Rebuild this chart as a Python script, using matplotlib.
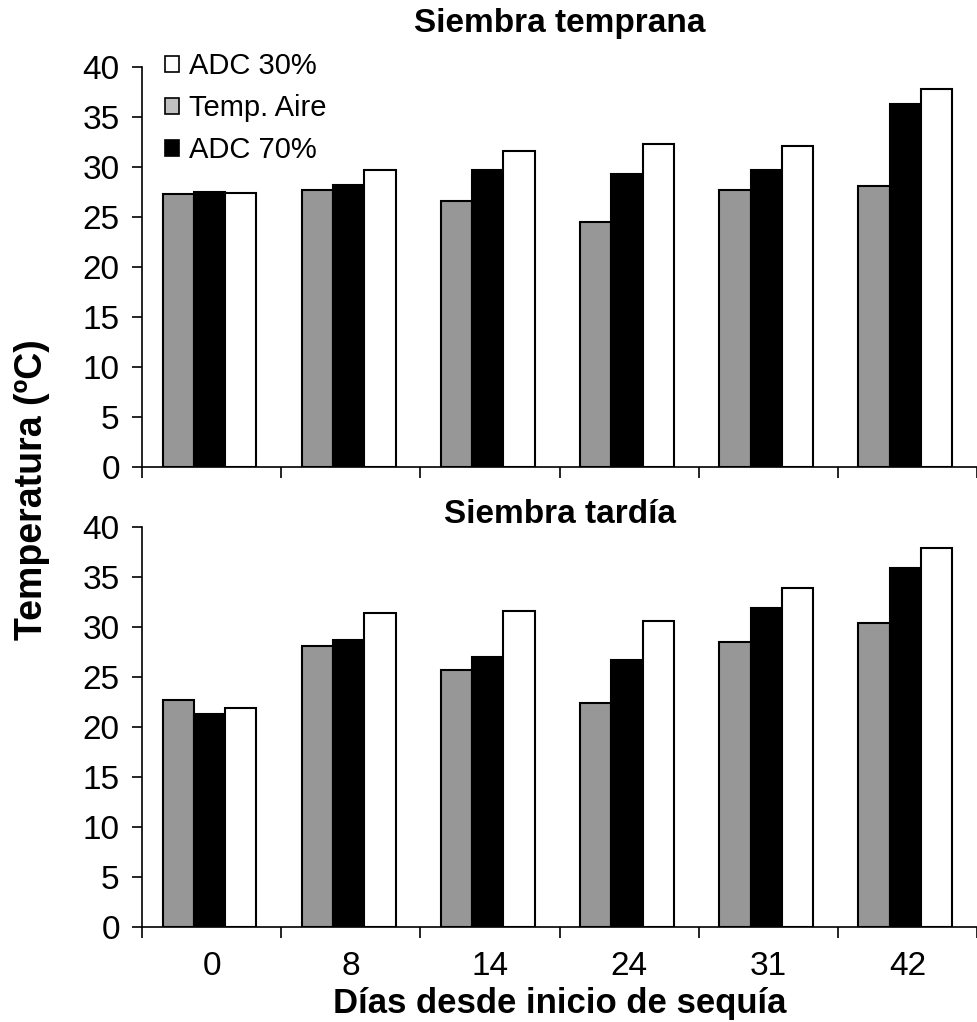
import matplotlib
matplotlib.use("Agg")
import matplotlib.pyplot as plt
from matplotlib.patches import Patch
import numpy as np

plt.rcParams['font.family'] = ['Liberation Sans', 'DejaVu Sans']

dias = ['0', '8', '14', '24', '31', '42']

# siembra temprana
temp_aire_1 = [27.3, 27.7, 26.6, 24.5, 27.7, 28.1]
adc70_1 = [27.5, 28.2, 29.7, 29.3, 29.7, 36.3]
adc30_1 = [27.4, 29.7, 31.6, 32.3, 32.1, 37.8]

# siembra tardia
temp_aire_2 = [22.7, 28.1, 25.7, 22.4, 28.5, 30.4]
adc70_2 = [21.3, 28.7, 27.0, 26.7, 31.9, 35.9]
adc30_2 = [21.9, 31.4, 31.6, 30.6, 33.9, 37.9]

gris = '#979797'
w = 0.225
x = np.arange(len(dias))

W, H = 977, 1022
fig = plt.figure(figsize=(W / 100, H / 100), dpi=100)
ax1 = fig.add_axes([142 / W, 1 - 467 / H, 1 - 142 / W, 400 / H])
ax2 = fig.add_axes([142 / W, 1 - 927 / H, 1 - 142 / W, 400 / H])


def panel(ax, aire, a70, a30, etiquetas):
    ax.bar(x - w - 0.015, aire, w, color=gris, edgecolor='black', linewidth=1.5)
    ax.bar(x - 0.015, a70, w, color='black', edgecolor='black', linewidth=1.5)
    ax.bar(x + w - 0.015, a30, w, color='white', edgecolor='black', linewidth=1.5)
    ax.set_xlim(-0.5, len(dias) - 0.5)
    ax.set_ylim(0, 40)
    ax.set_yticks(range(0, 41, 5))
    ax.spines['top'].set_visible(False)
    ax.spines['right'].set_visible(False)
    ax.spines['left'].set_linewidth(1.2)
    ax.spines['bottom'].set_linewidth(1.2)
    ax.set_xticks(np.arange(-0.5, len(dias), 1.0))
    ax.set_xticklabels([])
    ax.set_xticks(x, minor=True)
    ax.set_xticklabels(dias if etiquetas else [], minor=True)
    ax.tick_params(axis='x', which='major', direction='out', length=8, width=1.2)
    ax.tick_params(axis='x', which='minor', length=0, labelsize=24, pad=17)
    ax.tick_params(axis='y', direction='out', length=7, width=1.2, labelsize=24, pad=9)


panel(ax1, temp_aire_1, adc70_1, adc30_1, False)
panel(ax2, temp_aire_2, adc70_2, adc30_2, True)

fig.text(0.5727, 1 - 32 / H, 'Siembra temprana', ha='center', va='baseline',
         fontsize=24, fontweight='bold')
fig.text(0.5727, 1 - 523 / H, 'Siembra tardía', ha='center', va='baseline',
         fontsize=24, fontweight='bold')

handles = [Patch(facecolor='white', edgecolor='black', linewidth=1.2),
           Patch(facecolor='#c0c0c0', edgecolor='black', linewidth=1.2),
           Patch(facecolor='black', edgecolor='black', linewidth=1.2)]
ax1.legend(handles, ['ADC 30%', 'Temp. Aire', 'ADC 70%'],
           loc='upper left', bbox_to_anchor=(165 / W, 1 - 52 / H), bbox_transform=fig.transFigure,
           frameon=False, fontsize=21, handlelength=0.48, handleheight=0.48,
           handletextpad=0.33, labelspacing=0.48, borderaxespad=0, borderpad=0)

fig.text(32 / W, 1 - 490 / H, 'Temperatura (ºC)', rotation=90, ha='center', va='center',
         fontsize=27, fontweight='bold')
fig.text(0.5727, 1 - 1013 / H, 'Días desde inicio de sequía', ha='center', va='baseline',
         fontsize=25, fontweight='bold')

fig.savefig('out.png', dpi=100)
